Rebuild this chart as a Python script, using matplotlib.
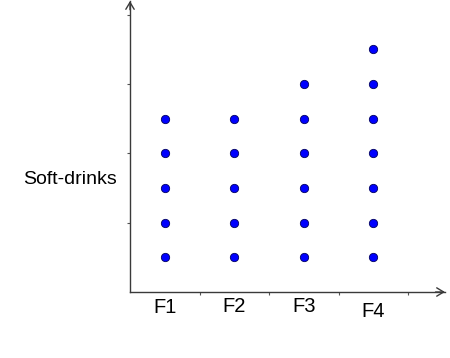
import matplotlib
matplotlib.use("Agg")
import matplotlib.pyplot as plt
import matplotlib.transforms as mtransforms

# Data
categories = ["F1", "F2", "F3", "F4"]
counts = [5, 5, 6, 7]
y_label = "Soft-drinks"

plt.rcParams['font.family'] = ['Liberation Sans', 'DejaVu Sans']

fig = plt.figure(figsize=(4.5, 3.58), dpi=100)
W, H = 450, 358
ax_left, ax_right, ax_top, ax_bottom = 130, 445, 1, 292
ax = fig.add_axes([ax_left / W, (H - ax_bottom) / H,
                   (ax_right - ax_left) / W, (ax_bottom - ax_top) / H])

axis_color = "#3a3a3a"

xs, ys = [], []
for i, c in enumerate(counts):
    for k in range(1, c + 1):
        xs.append(i + 0.5)
        ys.append(k)
ax.plot(xs, ys, linestyle="none", marker="o", markersize=6,
        markerfacecolor="#0000ff", markeredgecolor="#000060", markeredgewidth=0.6)

ax.set_xlim(0, 4.53)
ax.set_ylim(0, 8.39)

for s in ["top", "right"]:
    ax.spines[s].set_visible(False)
for s in ["left", "bottom"]:
    ax.spines[s].set_color(axis_color)
    ax.spines[s].set_linewidth(1.0)

# arrows
ax.annotate("", xy=(1.0, 0), xytext=(0.97, 0), xycoords="axes fraction",
            arrowprops=dict(arrowstyle="->,head_length=0.5,head_width=0.3",
                            color=axis_color, lw=1.0, shrinkA=0, shrinkB=0))
ax.annotate("", xy=(0, 1.0), xytext=(0, 0.97), xycoords="axes fraction",
            arrowprops=dict(arrowstyle="->,head_length=0.5,head_width=0.3",
                            color=axis_color, lw=1.0, shrinkA=0, shrinkB=0))

# ticks
ax.set_yticks([2, 4, 6, 8])
ax.set_yticklabels([])
ax.tick_params(axis="y", length=2.5, width=0.8, color="#555555", direction="out")
ax.set_xticks([1, 2, 3, 4])
ax.set_xticklabels([])
ax.tick_params(axis="x", length=2, width=0.8, color="#555555", direction="out")

# category labels
offsets = [0, -1, -1, 4]
for i, (lab, off) in enumerate(zip(categories, offsets)):
    tr = ax.get_xaxis_transform() + mtransforms.ScaledTranslation(0, -(6 + off) / 100, fig.dpi_scale_trans)
    ax.text(i + 0.5, 0, lab, transform=tr, ha="center", va="top", fontsize=14.5, color="black")

ax.text(-13 / (ax_right - ax_left), (ax_bottom - 179) / (ax_bottom - ax_top), y_label,
        transform=ax.transAxes, ha="right", va="center", fontsize=14, color="black")

fig.savefig("out.png", dpi=100)
